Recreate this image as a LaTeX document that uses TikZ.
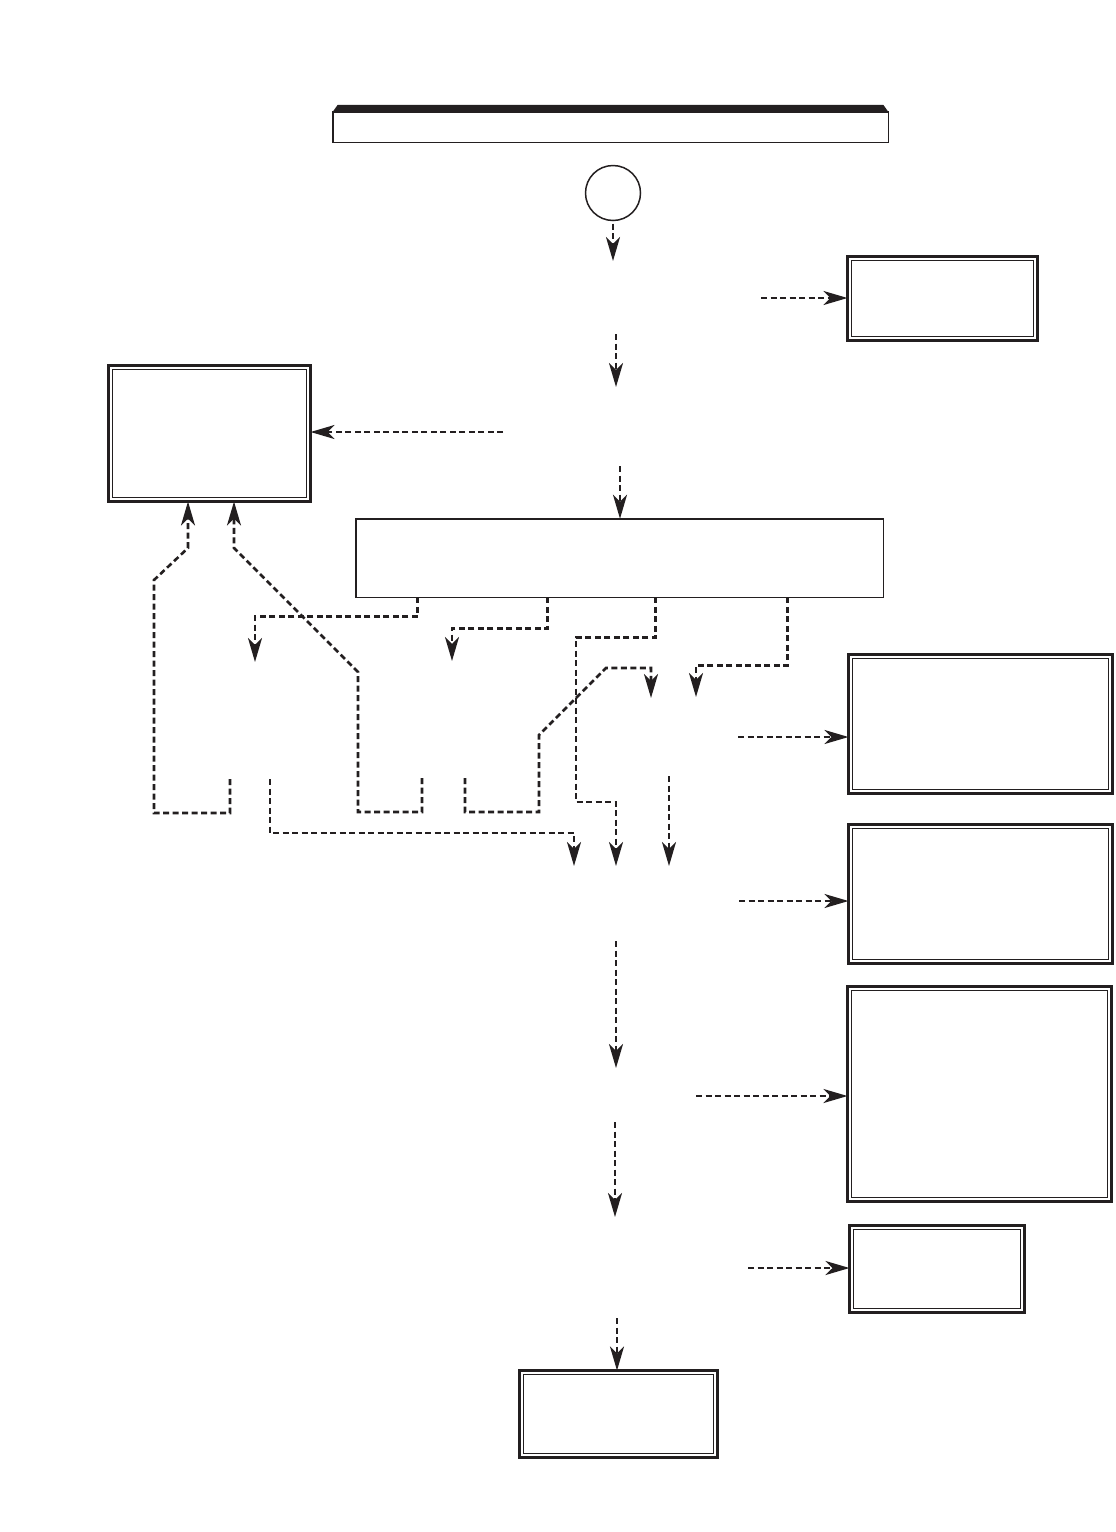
\documentclass[tikz,border=0pt]{standalone}
\usepackage{tikz}
\usetikzlibrary{arrows.meta, positioning, calc, fit}
\definecolor{cink}{HTML}{231F20}

\begin{document}
\begin{tikzpicture}[x=1pt, y=-1pt,
  flow/.style={draw=cink, line width=2.6pt, dash pattern=on 6pt off 3.5pt, -{Stealth[length=24pt, width=14pt, inset=7pt]}},
  frame/.style={draw=cink, line width=3pt, inner sep=0pt, outer sep=0pt},
  inframe/.style={draw=cink, line width=1pt, inner sep=-4pt, outer sep=0pt},
  plain/.style={draw=cink, line width=1.5pt, inner sep=0pt, outer sep=0pt}]
  \useasboundingbox (0,0) rectangle (1116,1532);

  % Title bar
  \node[plain, minimum width=555.5pt, minimum height=30.5pt] (title) at (610.5,127) {};
  \fill[cink] (title.north west) -- ++(5,-7) -- ($(title.north east)+(-5,-7)$) -- (title.north east) -- cycle;
  \node[plain, circle, minimum size=55pt] (start) at (613,193) {};

  % Boxes
  \node[frame, minimum width=190pt, minimum height=84pt] (notice) at (942.5,298.5) {};
  \node[frame, minimum width=202pt, minimum height=136pt] (reject) at (209.5,433.5) {};
  \node[plain, minimum width=527.5pt, minimum height=78.5pt] (panel) at (619.5,558) {};
  \node[frame, minimum width=264pt, minimum height=139pt] (stepA) at (980.5,724) {};
  \node[frame, minimum width=264pt, minimum height=139pt] (stepB) at (980.5,894) {};
  \node[frame, minimum width=264pt, minimum height=215pt] (stepC) at (979.5,1094) {};
  \node[frame, minimum width=175pt, minimum height=87pt] (stepD) at (937,1269) {};
  \node[frame, minimum width=198pt, minimum height=87pt] (finish) at (618.5,1414) {};
  \foreach \b in {notice,reject,stepA,stepB,stepC,stepD,finish}
    \node[inframe, fit=(\b)] (\b-in) {};

  % Free ends
  \coordinate (t1) at (613,261);
  \coordinate (s2) at (761,298);
  \coordinate (s3) at (616,334);
  \coordinate (t3) at (616,387);
  \coordinate (s4) at (503,432);
  \coordinate (s5) at (620,466);
  \coordinate (t61) at (255,662);
  \coordinate (t62) at (452,661);
  \coordinate (t63) at (616,866);
  \coordinate (t64) at (696,697);
  \coordinate (t65) at (651,698);
  \coordinate (t66) at (574,866);
  \coordinate (t67) at (669,866);
  \coordinate (u1) at (230,779);
  \coordinate (u2) at (270,779);
  \coordinate (u3) at (422,778);
  \coordinate (u4) at (465,778);
  \coordinate (u5) at (669,776);
  \coordinate (s7) at (738,737);
  \coordinate (s8) at (739,901);
  \coordinate (s9) at (616,941);
  \coordinate (t9) at (616,1068);
  \coordinate (s10) at (696,1096);
  \coordinate (s11) at (615,1122);
  \coordinate (t11) at (615,1217);
  \coordinate (s12) at (748,1268);
  \coordinate (s13) at (617,1318);

  % Upper chain
  \draw[flow, shorten <=3pt] (start) -- (t1);
  \draw[flow] (s2) -- (notice.west |- s2);
  \draw[flow] (s3) -- (t3);
  \draw[flow] (s4) -- (reject.east |- s4);
  \draw[flow] (s5) -- (panel.north -| s5);

  % Branches under the panel
  \draw[flow] ($(panel.south west)+(62,0)$) -- ++(0,19) -| (t61);
  \draw[flow] ($(panel.south west)+(192,0)$) -- ++(0,31) -| (t62);
  \draw[flow] ($(panel.south west)+(300,0)$) -- ++(0,40) -| (576,802) -| (t63);
  \draw[flow] ($(panel.south west)+(432,0)$) -- ++(0,68) -| (t64);

  % Loops back
  \draw[flow] (u1) -- ++(0,34) -- ++(-76,0) -- ++(0,-233) -- ++(34,-32) -- ($(reject.south west)+(79.5,0)$);
  \draw[flow] (u3) -- ++(0,34) -- ++(-64,0) -- ++(0,-140) -- ++(-124,-124) -- ($(reject.south west)+(125.5,0)$);
  \draw[flow] (u4) -- ++(0,34) -- ++(74,0) -- ++(0,-77) -- ++(67,-67) -- ++(45,0) -- (t65);
  \draw[flow] (u2) -- ++(0,54) -| (t66);
  \draw[flow] (u5) -- (t67);

  % Lower chain
  \draw[flow] (s7) -- (stepA.west |- s7);
  \draw[flow] (s8) -- (stepB.west |- s8);
  \draw[flow] (s9) -- (t9);
  \draw[flow] (s10) -- (stepC.west |- s10);
  \draw[flow] (s11) -- (t11);
  \draw[flow] (s12) -- (stepD.west |- s12);
  \draw[flow] (s13) -- (finish.north -| s13);
\end{tikzpicture}
\end{document}
